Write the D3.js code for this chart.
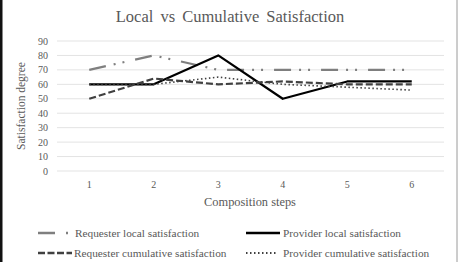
<!DOCTYPE html>
<html>
<head>
<meta charset="utf-8">
<script src="https://cdn.jsdelivr.net/npm/d3@7"></script>
<style>
  body { margin: 0; background: #fff; }
  text { font-family: "Liberation Serif", "DejaVu Serif", serif; fill: #595959; }
</style>
</head>
<body>
<svg id="chart" width="462" height="262"></svg>
<script>
// chart data
const steps = ["1", "2", "3", "4", "5", "6"];
const yTicks = [0, 10, 20, 30, 40, 50, 60, 70, 80, 90];
const requesterLocal = [70, 80, 70, 70, 70, 70];
const providerLocal = [60, 60, 80, 50, 62, 62];
const requesterCumulative = [50, 64, 60, 62, 60, 60];
const providerCumulative = [60, 60, 65, 60, 58, 56];

const seriesNames = ["Requester local satisfaction", "Provider local satisfaction",
                     "Requester cumulative satisfaction", "Provider cumulative satisfaction"];

const series = [
    { name: seriesNames[0], values: requesterLocal, color: "#7f7f7f", width: 2.2, dash: "17,8,2,7,2,11" },
    { name: seriesNames[1], values: providerLocal, color: "#000000", width: 2.2, dash: null },
    { name: seriesNames[2], values: requesterCumulative, color: "#404040", width: 2.2, dash: "7,3" },
    { name: seriesNames[3], values: providerCumulative, color: "#404040", width: 1.6, dash: "1.5,2.5" }
];

const svg = d3.select("#chart");

// frame
svg.append("rect").attr("x", 0).attr("y", 0).attr("width", 2.5).attr("height", 262).attr("fill", "#111");
svg.append("line").attr("x1", 457).attr("x2", 457).attr("y1", 0).attr("y2", 262)
    .attr("stroke", "#9a9a9a").attr("stroke-width", 1);

const plot = { left: 57, right: 444, top: 41, bottom: 171 };

const x = d3.scaleBand().domain(steps).range([plot.left, plot.right]);
const y = d3.scaleLinear().domain([0, 90]).range([plot.bottom, plot.top]);

// title
svg.append("text")
    .attr("x", 230).attr("y", 22)
    .attr("text-anchor", "middle")
    .style("font-size", "16.5px")
    .style("word-spacing", "3px")
    .text("Local vs Cumulative Satisfaction");

// gridlines
svg.append("g").selectAll("line")
    .data(yTicks)
    .enter()
    .append("line")
    .attr("x1", plot.left).attr("x2", plot.right)
    .attr("y1", d => y(d)).attr("y2", d => y(d))
    .attr("stroke", "#e3e3e3").attr("stroke-width", 1);

// y tick labels
svg.append("g").selectAll("text")
    .data(yTicks)
    .enter()
    .append("text")
    .attr("x", 48).attr("y", d => y(d) + 3.5)
    .attr("text-anchor", "end")
    .style("font-size", "10px")
    .text(d => d);

// x tick labels
svg.append("g").selectAll("text")
    .data(steps)
    .enter()
    .append("text")
    .attr("x", d => x(d) + x.bandwidth() / 2)
    .attr("y", 188)
    .attr("text-anchor", "middle")
    .style("font-size", "10px")
    .text(d => d);

// axis titles
svg.append("text")
    .attr("transform", "translate(25," + (plot.top + plot.bottom) / 2 + ") rotate(-90)")
    .attr("text-anchor", "middle")
    .style("font-size", "11.5px")
    .text("Satisfaction degree");

svg.append("text")
    .attr("x", 250).attr("y", 206)
    .attr("text-anchor", "middle")
    .style("font-size", "12.4px")
    .text("Composition steps");

// lines
const line = d3.line()
    .x((d, i) => x(steps[i]) + x.bandwidth() / 2)
    .y(d => y(d));

svg.append("g").selectAll("path")
    .data(series)
    .enter()
    .append("path")
    .attr("d", d => line(d.values))
    .attr("fill", "none")
    .attr("stroke", d => d.color)
    .attr("stroke-width", d => d.width)
    .attr("stroke-dasharray", d => d.dash)
    .attr("stroke-linejoin", "round");

// legend
const legendPos = [
    { x: 38, y: 233, len: 33, tx: 75, dash: "17,11,2,9" },
    { x: 246, y: 233, len: 34, tx: 283, dash: null },
    { x: 38, y: 253, len: 34, tx: 74, dash: "7,2.5" },
    { x: 246, y: 253, len: 32, tx: 283, dash: "1.5,2.5" }
];

const legend = svg.append("g").selectAll("g")
    .data(series)
    .enter()
    .append("g");

legend.append("line")
    .attr("x1", (d, i) => legendPos[i].x)
    .attr("x2", (d, i) => legendPos[i].x + legendPos[i].len)
    .attr("y1", (d, i) => legendPos[i].y)
    .attr("y2", (d, i) => legendPos[i].y)
    .attr("stroke", d => d.color)
    .attr("stroke-width", d => d.width + 0.4)
    .attr("stroke-dasharray", (d, i) => legendPos[i].dash);

legend.append("text")
    .attr("x", (d, i) => legendPos[i].tx)
    .attr("y", (d, i) => legendPos[i].y + 3.8)
    .style("font-size", "11.3px")
    .text(d => d.name);
</script>
</body>
</html>
